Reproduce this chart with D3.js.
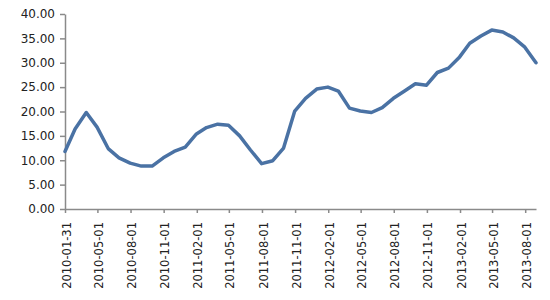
<!DOCTYPE html>
<html>
<head>
<meta charset="utf-8">
<script src="https://cdn.jsdelivr.net/npm/d3@7"></script>
<style>
  body { margin: 0; background: #fff; }
  svg { display: block; }
  .axis text { font-family: "DejaVu Sans", sans-serif; fill: #222; }
  .axis path, .axis line { stroke: #8a8a8a; stroke-width: 1.5px; }
</style>
</head>
<body>
<svg width="550" height="300"></svg>
<script>
// month-end dates, one value per month
const dates = [
  "2010-01-31","2010-02-28","2010-03-31","2010-04-30","2010-05-31","2010-06-30",
  "2010-07-31","2010-08-31","2010-09-30","2010-10-31","2010-11-30","2010-12-31",
  "2011-01-31","2011-02-28","2011-03-31","2011-04-30","2011-05-31","2011-06-30",
  "2011-07-31","2011-08-31","2011-09-30","2011-10-31","2011-11-30","2011-12-31",
  "2012-01-31","2012-02-29","2012-03-31","2012-04-30","2012-05-31","2012-06-30",
  "2012-07-31","2012-08-31","2012-09-30","2012-10-31","2012-11-30","2012-12-31",
  "2013-01-31","2013-02-28","2013-03-31","2013-04-30","2013-05-31","2013-06-30",
  "2013-07-31","2013-08-31"
];
const values = [
  11.8, 16.4, 19.8, 16.8, 12.4, 10.5, 9.4, 8.8, 8.8, 10.5, 11.8, 12.7,
  15.4, 16.7, 17.4, 17.2, 15.0, 12.1, 9.3, 9.9, 12.5, 20.1, 22.7, 24.6,
  25.0, 24.2, 20.7, 20.1, 19.8, 20.8, 22.7, 24.2, 25.7, 25.4, 28.0, 28.9,
  31.2, 34.0, 35.5, 36.7, 36.3, 35.1, 33.2, 30.0
];
const tickDates = [
  "2010-01-31","2010-05-01","2010-08-01","2010-11-01","2011-02-01","2011-05-01",
  "2011-08-01","2011-11-01","2012-02-01","2012-05-01","2012-08-01","2012-11-01",
  "2013-02-01","2013-05-01","2013-08-01"
];
const yTicks = [0, 5, 10, 15, 20, 25, 30, 35, 40];

const parse = d3.utcParse("%Y-%m-%d");
const data = dates.map((d, i) => ({ date: parse(d), value: values[i] }));

const svg = d3.select("svg");
const margin = { left: 65, right: 536, top: 14, bottom: 209 };

const x = d3.scaleUtc()
  .domain(d3.extent(data, d => d.date))
  .range([margin.left, margin.right]);
const y = d3.scaleLinear().domain([0, 40]).range([margin.bottom, margin.top]);

// y axis
const yAxis = svg.append("g")
  .attr("class", "axis")
  .attr("transform", `translate(${margin.left},0)`)
  .call(d3.axisLeft(y).tickValues(yTicks).tickFormat(d3.format(".2f")).tickSize(5).tickSizeOuter(0).tickPadding(5));
yAxis.selectAll("text").style("font-size", "12px");

// x axis
const xAxis = svg.append("g")
  .attr("class", "axis")
  .attr("transform", `translate(0,${margin.bottom})`)
  .call(d3.axisBottom(x).tickValues(tickDates.map(parse)).tickFormat(d3.utcFormat("%Y-%m-%d")).tickSize(4).tickSizeOuter(0));
xAxis.selectAll("text")
  .style("font-size", "11.5px")
  .attr("transform", "rotate(-90)")
  .attr("text-anchor", "end")
  .attr("x", -13)
  .attr("y", 1)
  .attr("dy", "0.35em");

// line
const line = d3.line()
  .x(d => x(d.date))
  .y(d => y(d.value));

svg.append("path")
  .datum(data)
  .attr("fill", "none")
  .attr("stroke", "#4a72a4")
  .attr("stroke-width", 3.5)
  .attr("stroke-linejoin", "round")
  .attr("stroke-linecap", "round")
  .attr("d", line);
</script>
</body>
</html>
